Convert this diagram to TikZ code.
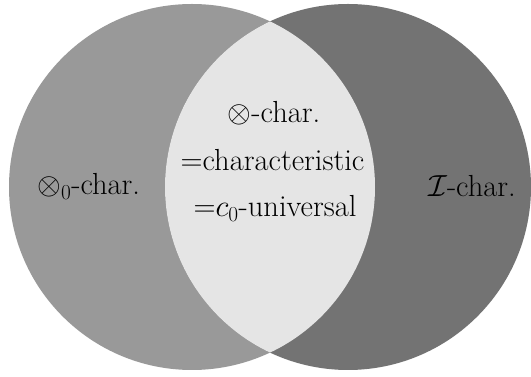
\RequirePackage{fix-cm}
\documentclass[tikz,border=0pt]{standalone}
\begin{document}
\begin{tikzpicture}[x=1pt,y=1pt,
  lbl/.style={anchor=base,inner sep=0pt,font=\fontsize{30.5}{36}\selectfont}]
\useasboundingbox (0,0) rectangle (531,377);
\fill[black!40] (192,190) circle (183);
\fill[black!55] (348,190) circle (183);
\begin{scope}
  \clip (192,190) circle (183);
  \fill[black!10] (348,190) circle (183);
\end{scope}
\node[lbl] (l1) at (274,254.3) {$\otimes$-char.};
\node[lbl] (l2) at (272.5,206) {=characteristic};
\node[lbl] (l3) at (275,160.3) {=$c_0$-universal};
\node[lbl] (left) at (88.7,182) {$\otimes_0$-char.};
\node[lbl] (right) at (472,180.5) {$\mathcal{I}$-char.};
\end{tikzpicture}
\end{document}
